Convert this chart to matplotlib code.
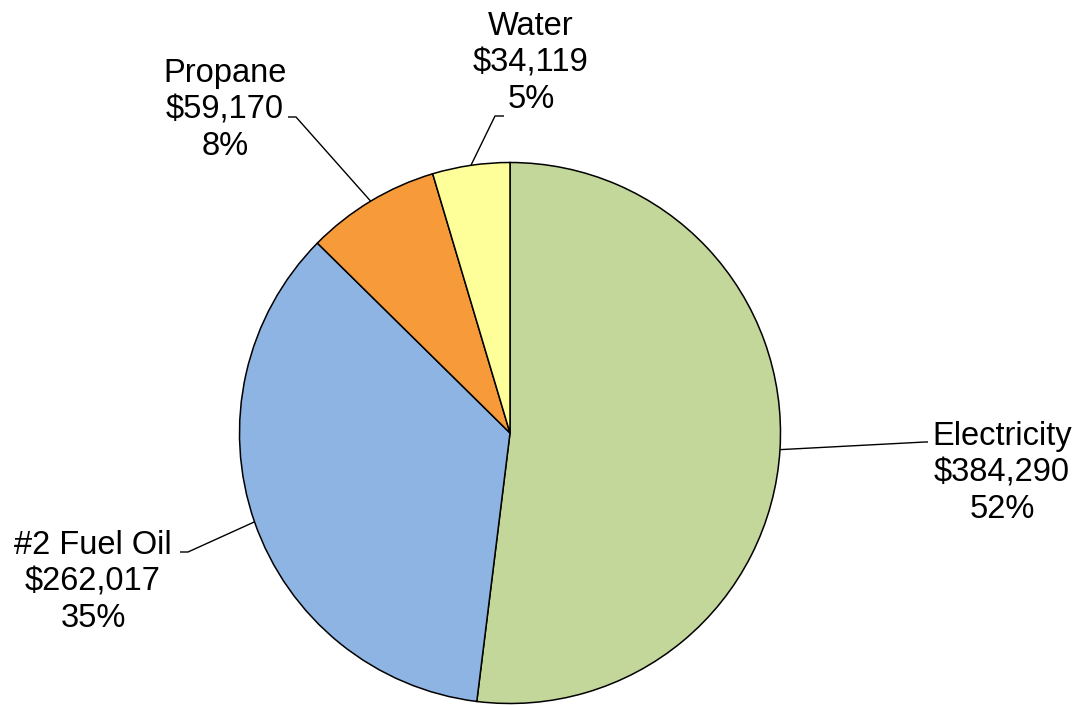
import numpy as np
import matplotlib
matplotlib.use("Agg")
import matplotlib.pyplot as plt

categories = ["Electricity", "#2 Fuel Oil", "Propane", "Water"]
values = [384290, 262017, 59170, 34119]
colors = ["#C4D79B", "#8EB4E3", "#F79A3A", "#FFFF99"]

W, H = 1077, 705
fig = plt.figure(figsize=(W / 100, H / 100), dpi=100)
ax = fig.add_axes([0, 0, 1, 1])
ax.set_xlim(0, W)
ax.set_ylim(0, H)
ax.set_aspect("equal")
ax.axis("off")

cx, cy, r = 510, H - 433, 270.5
wedges, _ = ax.pie(values, colors=colors, startangle=90, counterclock=False,
                   center=(cx, cy), radius=r, frame=True,
                   wedgeprops=dict(edgecolor="black", linewidth=1.1))
ax.set_xlim(0, W)
ax.set_ylim(0, H)
ax.axis("off")

total = sum(values)
# label layout (pixel coords, y from top): text centre, elbow, tail end
layout = {
    "Electricity": dict(text=(1002, 473), elbow=(925, 442), tail=(928, 442)),
    "#2 Fuel Oil": dict(text=(93, 582), elbow=(188, 552), tail=(180, 552)),
    "Propane": dict(text=(225, 110), elbow=(296, 117), tail=(288, 117)),
    "Water": dict(text=(531, 63), elbow=(495, 116), tail=(504, 116)),
}

for w, cat, v in zip(wedges, categories, values):
    ang = np.deg2rad((w.theta1 + w.theta2) / 2)
    ex, ey = cx + r * np.cos(ang), cy + r * np.sin(ang)
    L = layout[cat]
    bx, by = L["elbow"][0], H - L["elbow"][1]
    tx, ty = L["tail"][0], H - L["tail"][1]
    ax.plot([ex, bx, tx], [ey, by, ty], color="black", lw=1.0,
            solid_capstyle="butt")
    pct = round(100 * v / total)
    ax.text(L["text"][0], H - L["text"][1], f"{cat}\n${v:,}\n{pct}%",
            ha="center", va="center", multialignment="center",
            fontsize=23.5, family=["Liberation Sans", "DejaVu Sans"],
            linespacing=1.24, color="black")

fig.savefig("out.png", dpi=100, facecolor="white")
